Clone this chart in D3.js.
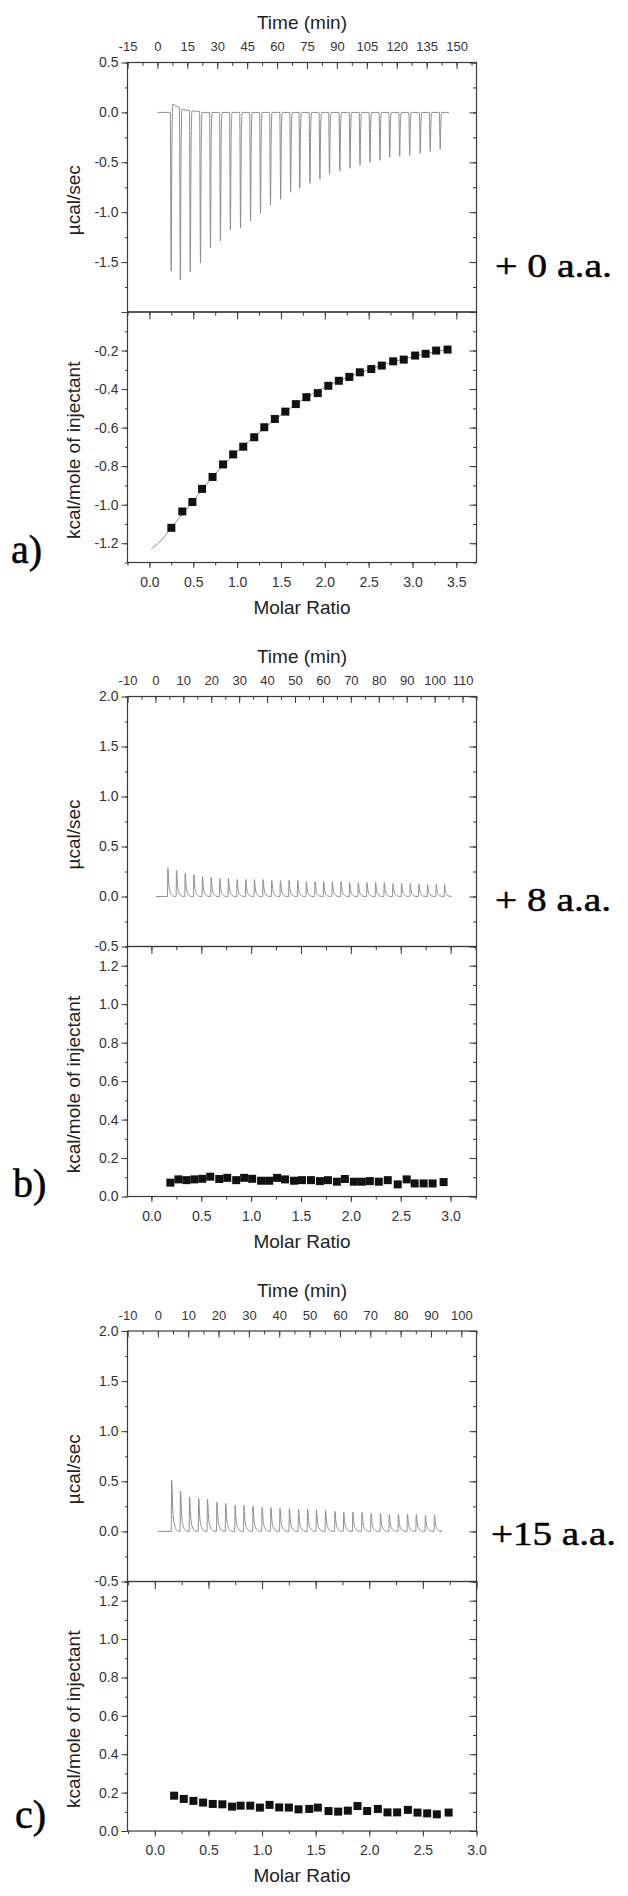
<!DOCTYPE html>
<html>
<head>
<meta charset="utf-8">
<script src="https://cdn.jsdelivr.net/npm/d3@7"></script>
<style>
  body { margin: 0; background: #fff; }
</style>
</head>
<body>
<svg id="chart" width="628" height="1896"></svg>
<script>
// ---------- data ----------
// panel a, raw heat flow (µcal/sec): injection times (min) and peak values
var injTimeA = [6.8, 11.4, 16.4, 21.5, 26.5, 31.5, 36.5, 41.6, 46.6, 51.6, 56.6, 61.7, 66.7, 71.3,
  76.4, 81.4, 86.2, 91.4, 96.5, 101.5, 106.5, 111.5, 116.4, 121.4, 126.4, 131.7, 136.7, 141.7];
var injPeakA = [-1.59, -1.68, -1.60, -1.51, -1.36, -1.29, -1.18, -1.16, -1.09, -1.01, -0.93, -0.87,
  -0.80, -0.76, -0.71, -0.67, -0.62, -0.59, -0.56, -0.53, -0.50, -0.48, -0.45, -0.44, -0.43, -0.41, -0.39, -0.37];
var afterLevelA = [0.08, 0.03, 0.015];
var runA = [0, 145.7];
// panel a, integrated heats
var molarA = [0.25, 0.375, 0.49, 0.60, 0.72, 0.84, 0.955, 1.07, 1.195, 1.31, 1.43, 1.55, 1.67, 1.79,
  1.92, 2.04, 2.16, 2.28, 2.40, 2.53, 2.65, 2.78, 2.90, 3.03, 3.15, 3.27, 3.40];
var heatA = [-1.12, -1.035, -0.986, -0.918, -0.856, -0.791, -0.739, -0.699, -0.650, -0.598, -0.555, -0.517,
  -0.478, -0.442, -0.421, -0.383, -0.357, -0.337, -0.313, -0.296, -0.278, -0.256, -0.247, -0.226, -0.217, -0.200, -0.195];
var fitMolarA = [0.02, 0.1, 0.18, 0.25, 0.5, 0.75, 1.0, 1.25, 1.5, 1.75, 2.0, 2.25, 2.5, 2.75, 3.0, 3.25, 3.42];
var fitHeatA = [-1.23, -1.20, -1.16, -1.12, -0.98, -0.84, -0.725, -0.625, -0.535, -0.455, -0.39, -0.34,
  -0.30, -0.262, -0.233, -0.207, -0.193];

// panel b
var injTimeB = [4.3, 7.4, 10.5, 13.6, 16.7, 19.8, 22.9, 26.0, 29.1, 32.2, 35.3, 38.4, 41.5, 44.6, 47.7,
  50.8, 53.9, 57.0, 60.1, 63.2, 66.3, 69.4, 72.5, 75.6, 78.7, 81.8, 84.9, 88.0, 91.1, 94.2, 97.3, 100.4, 103.4];
var injPeakB = [0.28, 0.26, 0.23, 0.22, 0.20, 0.19, 0.18, 0.18, 0.17, 0.17, 0.17, 0.17, 0.16, 0.16, 0.16,
  0.16, 0.15, 0.15, 0.15, 0.15, 0.15, 0.14, 0.14, 0.14, 0.14, 0.14, 0.13, 0.13, 0.13, 0.12, 0.12, 0.12, 0.12];
var runB = [0.2, 105.8];
var molarB = [0.19, 0.27, 0.35, 0.43, 0.51, 0.59, 0.68, 0.76, 0.85, 0.93, 1.01, 1.10, 1.18, 1.26, 1.34,
  1.43, 1.51, 1.60, 1.69, 1.77, 1.86, 1.94, 2.03, 2.11, 2.19, 2.28, 2.37, 2.47, 2.56, 2.64, 2.73, 2.82, 2.93];
var heatB = [0.072, 0.089, 0.085, 0.089, 0.092, 0.103, 0.091, 0.097, 0.085, 0.097, 0.092, 0.082, 0.082,
  0.097, 0.089, 0.082, 0.085, 0.085, 0.080, 0.085, 0.077, 0.091, 0.077, 0.077, 0.080, 0.077, 0.085,
  0.063, 0.089, 0.068, 0.068, 0.068, 0.075];

// panel c
var injTimeC = [4.4, 7.3, 10.3, 13.3, 16.2, 19.3, 22.2, 25.3, 28.2, 31.2, 34.2, 37.1, 40.1, 43.2, 46.2,
  49.2, 52.1, 55.1, 58.2, 61.1, 64.1, 67.1, 70.1, 73.2, 76.1, 79.1, 82.1, 85.0, 88.0, 91.0];
var injPeakC = [0.51, 0.40, 0.34, 0.33, 0.32, 0.29, 0.28, 0.26, 0.26, 0.25, 0.24, 0.24, 0.23, 0.23, 0.22,
  0.22, 0.21, 0.21, 0.20, 0.19, 0.19, 0.19, 0.18, 0.18, 0.17, 0.17, 0.17, 0.17, 0.16, 0.16];
var runC = [0.1, 92.9];
var molarC = [0.18, 0.27, 0.36, 0.45, 0.54, 0.63, 0.72, 0.80, 0.89, 0.98, 1.07, 1.16, 1.25, 1.34, 1.44,
  1.52, 1.62, 1.71, 1.80, 1.89, 1.98, 2.08, 2.17, 2.26, 2.36, 2.45, 2.54, 2.63, 2.74];
var heatC = [0.184, 0.167, 0.157, 0.148, 0.141, 0.139, 0.127, 0.132, 0.132, 0.122, 0.136, 0.123, 0.122,
  0.113, 0.115, 0.122, 0.104, 0.101, 0.106, 0.130, 0.104, 0.115, 0.097, 0.097, 0.110, 0.096, 0.092, 0.087, 0.096];

// tick labels
var timeTicksA = [-15, 0, 15, 30, 45, 60, 75, 90, 105, 120, 135, 150];
var timeTicksB = [-10, 0, 10, 20, 30, 40, 50, 60, 70, 80, 90, 100, 110];
var timeTicksC = [-10, 0, 10, 20, 30, 40, 50, 60, 70, 80, 90, 100];
var powerTicksA = [0.5, 0.0, -0.5, -1.0, -1.5];
var powerTicksBC = [2.0, 1.5, 1.0, 0.5, 0.0, -0.5];
var heatTicksA = [-0.2, -0.4, -0.6, -0.8, -1.0, -1.2];
var heatTicksBC = [0.0, 0.2, 0.4, 0.6, 0.8, 1.0, 1.2];
var molarTicksA = [0.0, 0.5, 1.0, 1.5, 2.0, 2.5, 3.0, 3.5];
var molarTicksBC = [0.0, 0.5, 1.0, 1.5, 2.0, 2.5, 3.0];

// ---------- drawing ----------
var W = 628, H = 1896;
var X0 = 127.5, X1 = 476.5;
var axisCol = "#3a3a3a";
var SANS = "'Liberation Sans', Arial, sans-serif";
var SERIF = "'Liberation Serif', 'Times New Roman', Times, serif";

var svg = d3.select("#chart");
svg.append("rect").attr("width", W).attr("height", H).attr("fill", "#fff");

function fmt1(d) { return d.toFixed(1); }
function stepTicks(domain, step) {
  var lo = Math.ceil(domain[0] / step - 1e-6), hi = Math.floor(domain[1] / step + 1e-6);
  return d3.range(lo, hi + 1).map(function (k) { return +(k * step).toFixed(4); });
}

// exotherm spike: [dt, fraction of peak]; endotherm spike decays slower
var exoShape = [[-0.35, 0], [0.1, 1], [0.45, 0.25]];
var endoShape = [[0, 0], [0.15, 1], [0.5, 0.45], [1.0, 0.15], [1.8, 0.03], [2.6, 0]];

function buildTrace(times, peaks, run, shape, after) {
  var pts = [[run[0], 0]];
  var level = 0;
  times.forEach(function (t, i) {
    shape.forEach(function (s) {
      pts.push([t + s[0], s[1] === 0 ? level : peaks[i] * s[1]]);
    });
    if (after) {
      var lv = after[i] || 0;
      pts.push([t + 0.9, lv]);
      level = lv * 0.6;
      pts.push([t + 4.4, level]);
    }
  });
  pts.push([run[1], 0]);
  return pts;
}

function styleAxis(sel, size) {
  sel.select(".domain").remove();
  sel.attr("font-size", size || 14).attr("font-family", SANS);
  sel.selectAll("line").attr("stroke", axisCol);
  sel.selectAll("text").attr("fill", "#333");
}

function drawPanel(p) {
  var x = d3.scaleLinear().domain(p.timeDomain).range([X0, X1]);
  var yP = d3.scaleLinear().domain(p.powerDomain).range([p.mid, p.top]);
  var m = d3.scaleLinear().domain(p.molarDomain).range([X0, X1]);
  var yH = d3.scaleLinear().domain(p.heatDomain).range([p.bottom, p.mid]);
  var g = svg.append("g");

  // --- top plot: time axis on top, ticks pointing in
  g.append("g").attr("transform", "translate(0," + p.top + ")")
    .call(d3.axisTop(x).tickValues(stepTicks(p.timeDomain, p.timeMinor)).tickSize(-3.3).tickFormat(""))
    .call(styleAxis);
  g.append("g").attr("transform", "translate(0," + p.top + ")")
    .call(d3.axisTop(x).tickValues(p.timeTicks).tickSize(-6.5).tickPadding(11.5).tickFormat(String))
    .call(styleAxis, 13);

  // left axis (outward ticks)
  g.append("g").attr("transform", "translate(" + X0 + ",0)")
    .call(d3.axisLeft(yP).tickValues(stepTicks(p.powerDomain, 0.25)).tickSize(2.5).tickFormat(""))
    .call(styleAxis);
  g.append("g").attr("transform", "translate(" + X0 + ",0)")
    .call(d3.axisLeft(yP).tickValues(stepTicks(p.powerDomain, 0.5)).tickSize(6).tickPadding(3)
      .tickFormat(function (d) { return p.powerTicks.indexOf(d) >= 0 ? fmt1(d) : ""; }))
    .call(styleAxis);
  // right axis (inward ticks)
  g.append("g").attr("transform", "translate(" + X1 + ",0)")
    .call(d3.axisRight(yP).tickValues(stepTicks(p.powerDomain, 0.25)).tickSize(-3.5).tickFormat(""))
    .call(styleAxis);
  g.append("g").attr("transform", "translate(" + X1 + ",0)")
    .call(d3.axisRight(yP).tickValues(stepTicks(p.powerDomain, 0.5)).tickSize(-7).tickFormat(""))
    .call(styleAxis);

  // raw trace
  var line = d3.line().x(function (d) { return x(d[0]); }).y(function (d) { return yP(d[1]); })
    .curve(d3.curveMonotoneX);
  g.append("path")
    .attr("d", line(buildTrace(p.injTime, p.injPeak, p.run, p.shape, p.after)))
    .attr("fill", "none").attr("stroke", "#8c8c8c").attr("stroke-width", 1);

  // --- bottom plot: molar ratio ticks on shared edge pointing down
  g.append("g").attr("transform", "translate(0," + p.mid + ")")
    .call(d3.axisTop(m).tickValues(stepTicks(p.molarDomain, 0.25)).tickSize(-3.7).tickFormat(""))
    .call(styleAxis);
  g.append("g").attr("transform", "translate(0," + p.mid + ")")
    .call(d3.axisTop(m).tickValues(stepTicks(p.molarDomain, 0.5)).tickSize(-7.5).tickFormat(""))
    .call(styleAxis);
  // bottom axis, outward
  g.append("g").attr("transform", "translate(0," + p.bottom + ")")
    .call(d3.axisBottom(m).tickValues(stepTicks(p.molarDomain, 0.25)).tickSize(3).tickFormat(""))
    .call(styleAxis);
  g.append("g").attr("transform", "translate(0," + p.bottom + ")")
    .call(d3.axisBottom(m).tickValues(p.molarTicks).tickSize(5.5).tickPadding(9).tickFormat(fmt1))
    .call(styleAxis);
  // left / right of bottom plot
  g.append("g").attr("transform", "translate(" + X0 + ",0)")
    .call(d3.axisLeft(yH).tickValues(stepTicks(p.heatDomain, 0.1)).tickSize(2.5).tickFormat(""))
    .call(styleAxis);
  g.append("g").attr("transform", "translate(" + X0 + ",0)")
    .call(d3.axisLeft(yH).tickValues(p.heatTicks).tickSize(6).tickPadding(3).tickFormat(fmt1))
    .call(styleAxis);
  g.append("g").attr("transform", "translate(" + X1 + ",0)")
    .call(d3.axisRight(yH).tickValues(stepTicks(p.heatDomain, 0.1)).tickSize(-3.5).tickFormat(""))
    .call(styleAxis);
  g.append("g").attr("transform", "translate(" + X1 + ",0)")
    .call(d3.axisRight(yH).tickValues(stepTicks(p.heatDomain, 0.2)).tickSize(-7).tickFormat(""))
    .call(styleAxis);

  // fit curve
  if (p.fitMolar) {
    var fit = d3.line().x(function (d) { return m(d[0]); }).y(function (d) { return yH(d[1]); })
      .curve(d3.curveCatmullRom);
    g.append("path").attr("d", fit(d3.zip(p.fitMolar, p.fitHeat)))
      .attr("fill", "none").attr("stroke", "#8c8c8c").attr("stroke-width", 1);
  }
  // integrated heats
  var sq = 8;
  g.selectAll(".pt").data(d3.zip(p.molar, p.heat)).enter().append("rect")
    .attr("x", function (d) { return m(d[0]) - sq / 2; })
    .attr("y", function (d) { return yH(d[1]) - sq / 2; })
    .attr("width", sq).attr("height", sq).attr("fill", "#111");

  // frames
  [[p.top, p.mid], [p.mid, p.bottom]].forEach(function (r) {
    g.append("rect").attr("x", X0).attr("y", r[0]).attr("width", X1 - X0).attr("height", r[1] - r[0])
      .attr("fill", "none").attr("stroke", axisCol).attr("stroke-width", 1.2);
  });

  // titles
  function title(sel) {
    return sel.attr("text-anchor", "middle").attr("font-family", SANS)
      .attr("font-size", 19).attr("fill", "#222");
  }
  g.append("text").attr("x", (X0 + X1) / 2).attr("y", p.top - 34).call(title).text("Time (min)");
  g.append("text").attr("x", (X0 + X1) / 2).attr("y", p.bottom + 51).call(title).text("Molar Ratio");
  g.append("text").attr("transform", "translate(80," + ((p.top + p.mid) / 2 + 13) + ") rotate(-90)")
    .call(title).text("µcal/sec");
  g.append("text").attr("transform", "translate(80," + ((p.mid + p.bottom) / 2 + 13) + ") rotate(-90)")
    .call(title).text("kcal/mole of injectant");

  // side labels
  g.append("text").attr("x", p.tagX).attr("y", p.tagY)
    .attr("font-family", SERIF).attr("font-size", 34)
    .attr("textLength", p.tagW).attr("lengthAdjust", "spacingAndGlyphs")
    .attr("fill", "#000").attr("stroke", "#000").attr("stroke-width", 0.5).text(p.tag);
  g.append("text").attr("x", p.letterX).attr("y", p.letterY)
    .attr("font-family", SERIF).attr("font-size", 40)
    .attr("fill", "#000").attr("stroke", "#000").attr("stroke-width", 0.5).text(p.letter);
}

drawPanel({
  top: 62.5, mid: 312, bottom: 562.5,
  timeDomain: [-15, 160], timeTicks: timeTicksA, timeMinor: 7.5,
  powerDomain: [-2.0, 0.5], powerTicks: powerTicksA,
  molarDomain: [-0.25, 3.73], molarTicks: molarTicksA,
  heatDomain: [-1.3, 0], heatTicks: heatTicksA,
  injTime: injTimeA, injPeak: injPeakA, run: runA, shape: exoShape, after: afterLevelA,
  molar: molarA, heat: heatA, fitMolar: fitMolarA, fitHeat: fitHeatA,
  tag: "+ 0 a.a.", tagX: 495, tagY: 277, tagW: 117,
  letter: "a)", letterX: 11, letterY: 563
});
drawPanel({
  top: 696.5, mid: 946.5, bottom: 1196.5,
  timeDomain: [-10, 115], timeTicks: timeTicksB, timeMinor: 5,
  powerDomain: [-0.5, 2.0], powerTicks: powerTicksBC,
  molarDomain: [-0.24, 3.26], molarTicks: molarTicksBC,
  heatDomain: [0, 1.3], heatTicks: heatTicksBC,
  injTime: injTimeB, injPeak: injPeakB, run: runB, shape: endoShape,
  molar: molarB, heat: heatB,
  tag: "+ 8 a.a.", tagX: 495, tagY: 911, tagW: 116,
  letter: "b)", letterX: 13, letterY: 1197
});
drawPanel({
  top: 1331, mid: 1581.5, bottom: 1831,
  timeDomain: [-10, 105], timeTicks: timeTicksC, timeMinor: 5,
  powerDomain: [-0.5, 2.0], powerTicks: powerTicksBC,
  molarDomain: [-0.255, 3.0], molarTicks: molarTicksBC,
  heatDomain: [0, 1.3], heatTicks: heatTicksBC,
  injTime: injTimeC, injPeak: injPeakC, run: runC, shape: endoShape,
  molar: molarC, heat: heatC,
  tag: "+15 a.a.", tagX: 491, tagY: 1545, tagW: 125,
  letter: "c)", letterX: 15, letterY: 1828
});
</script>
</body>
</html>
